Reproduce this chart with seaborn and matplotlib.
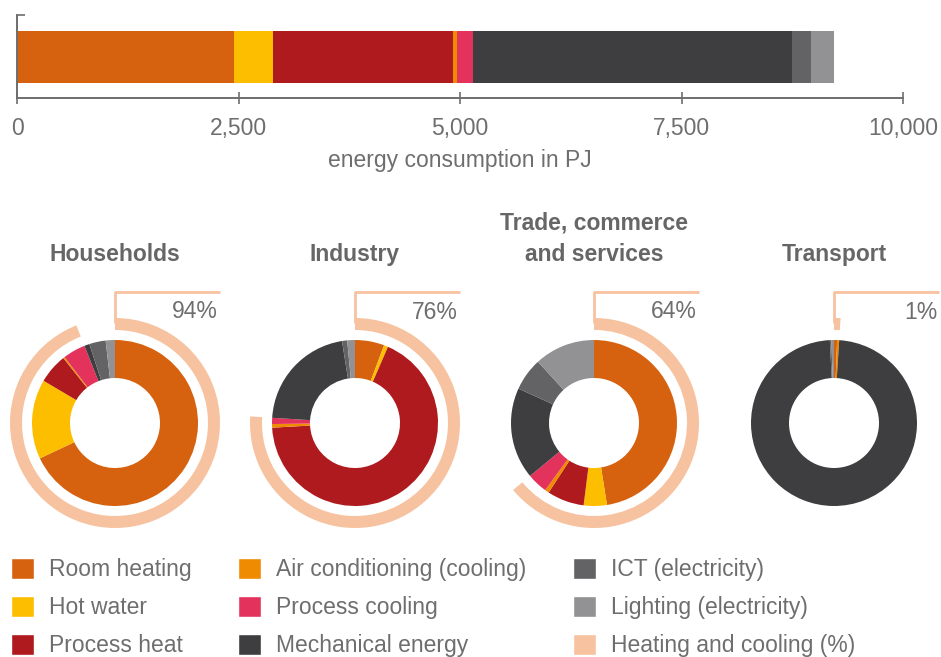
import numpy as np
import matplotlib.pyplot as plt
import seaborn as sns
from matplotlib.patches import Patch

# Endenergie nach Anwendungen (PJ) und Anteile je Sektor (%)
categories = [
    "Room heating",
    "Hot water",
    "Process heat",
    "Air conditioning (cooling)",
    "Process cooling",
    "Mechanical energy",
    "ICT (electricity)",
    "Lighting (electricity)",
]
total_pj = [2450, 440, 2030, 50, 180, 3600, 215, 260]

sectors = ["Households", "Industry", "Trade, commerce\nand services", "Transport"]
households = [68.0, 15.5, 5.8, 0.3, 4.4, 1.0, 3.2, 1.8]
industry = [5.7, 0.8, 67.6, 0.7, 1.2, 21.5, 1.0, 1.5]
trade = [47.5, 4.5, 7.2, 0.8, 4.0, 17.8, 6.4, 11.8]
transport = [0.6, 0.0, 0.0, 0.4, 0.0, 98.2, 0.3, 0.5]
heat_share = [94, 76, 64, 1]

x_ticks = [0, 2500, 5000, 7500, 10000]

COLORS = ["#D66210", "#FDBE00", "#AE1A1E", "#EF8B00",
          "#E3335C", "#3E3E40", "#636365", "#929294"]
RING = "#F7C29F"
GRAY = "#6E6E6E"
FS = 16.5

sns.set_theme(style="white")
plt.rcParams["font.family"] = ["Liberation Sans", "DejaVu Sans"]

W, H = 941, 657
fig = plt.figure(figsize=(W / 100, H / 100), dpi=100)

# 1. gestapelter Balken
ax = fig.add_axes([17 / W, 1 - 98 / H, 886 / W, 83 / H])
cum = np.cumsum(total_pj)
for value, color in reversed(list(zip(cum, COLORS))):
    sns.barplot(x=[value], y=["all"], color=color, width=1,
                saturation=1, linewidth=0, ax=ax)

ax.set_xlim(0, 10000)
ax.set_ylim(0.788, -0.80)
ax.set_xticks(x_ticks)
ax.set_xticklabels([f"{t:,}" for t in x_ticks])
ax.set_yticks([-0.80])
ax.set_yticklabels([""])
ax.set_ylabel("")
ax.set_xlabel("energy consumption in PJ", fontsize=FS, color=GRAY, labelpad=6)
sns.despine(ax=ax)
for side in ["left", "bottom"]:
    ax.spines[side].set_color(GRAY)
    ax.spines[side].set_linewidth(1.4)
ax.tick_params(axis="x", bottom=True, direction="inout", length=8, width=1.2,
               color=GRAY, labelcolor=GRAY, labelsize=FS, pad=10)
ax.tick_params(axis="y", left=True, direction="in", length=6, width=1.2,
               color=GRAY)

# 2. Ringdiagramme je Sektor
shares = [households, industry, trade, transport]
centers = [115, 355, 594, 834]
cy = 423
for name, vals, heat, cx in zip(sectors, shares, heat_share, centers):
    pax = fig.add_axes([(cx - 120) / W, 1 - (cy + 120) / H, 240 / W, 260 / H])
    pax.pie(vals, colors=COLORS, startangle=90, counterclock=False,
            radius=83, wedgeprops=dict(width=38, linewidth=0))
    pax.pie([heat, 100 - heat], colors=[RING, "none"], startangle=90,
            counterclock=False, radius=105,
            wedgeprops=dict(width=12, linewidth=0))
    pax.plot([0, 0, 105], [100, 131, 131], color=RING, lw=2,
             solid_capstyle="butt", clip_on=False)
    pax.text(103, 111, f"{heat}%", ha="right", va="center",
             fontsize=FS, color=GRAY)
    pax.set_xlim(-120, 120)
    pax.set_ylim(-120, 140)
    pax.set_aspect("equal")
    pax.axis("off")

    fig.text(cx / W, 1 - 239 / H if "\n" in name else 1 - 255 / H, name,
             ha="center", va="center", fontsize=FS, fontweight="bold",
             color="#666666", linespacing=1.45)

# 3. Legende
handles = [Patch(facecolor=c, label=l) for c, l in zip(COLORS, categories)]
handles.append(Patch(facecolor=RING, label="Heating and cooling (%)"))
fig.legend(handles=handles, loc="upper left",
           bbox_to_anchor=(11 / W, 1 - 558 / H), ncol=3, frameon=False,
           handlelength=1.0, handleheight=1.0, handletextpad=0.65,
           columnspacing=2.05, labelspacing=0.65, borderpad=0,
           borderaxespad=0, fontsize=FS, labelcolor=GRAY)

fig.savefig("out.png", dpi=100)
plt.close(fig)
